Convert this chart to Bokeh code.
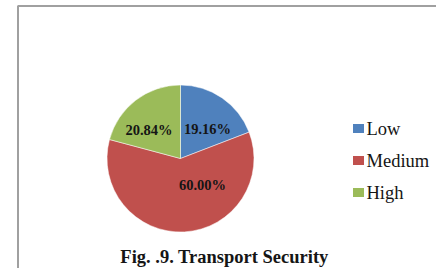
import math
from bokeh.plotting import figure
from bokeh.models import Range1d, ColumnDataSource
from bokeh.core.properties import value
from bokeh.embed import file_html
from bokeh.resources import INLINE

# ---- data ----
categories = ["Low", "Medium", "High"]
percents = [19.16, 60.00, 20.84]
labels = ["19.16%", "60.00%", "20.84%"]
colors = ["#4F81BD", "#C0504D", "#9BBB59"]
title_text = "Fig. .9. Transport Security"

# ---- layout (pixel units, origin bottom-left of figure) ----
W, H = 436, 268
cx, cy, R = 180, 110, 73.5
# label centre offsets (Excel best-fit placement) relative to pie centre
label_off = [(27, 29.5), (22, -26.5), (-31.5, 28.5)]

p = figure(width=W, height=H, output_backend="svg", toolbar_location=None,
           x_range=Range1d(0, W), y_range=Range1d(0, H), min_border=0)
p.xaxis.visible = False
p.yaxis.visible = False
p.xgrid.visible = False
p.ygrid.visible = False
p.outline_line_color = None
p.background_fill_color = "white"
p.border_fill_color = "white"

# outer frame (left and top visible)
p.line(x=[17.5, 17.5, W + 5], y=[-5, 262.5, 262.5], line_color="#a0a0a0", line_width=2)

# wedges: start at 12 o'clock, clockwise
total = sum(percents)
starts, ends = [], []
a = math.pi / 2
for v in percents:
    starts.append(a)
    a -= v / total * 2 * math.pi
    ends.append(a)
src = ColumnDataSource(dict(start=starts, end=ends, color=colors, cat=categories))
p.wedge(x=cx, y=cy, radius=R, start_angle="start", end_angle="end",
        direction="clock", fill_color="color", line_color="white", line_width=0.5,
        source=src)

# labels
lx = [cx + dx for dx, dy in label_off]
ly = [cy + dy for dx, dy in label_off]
p.text(x=lx, y=ly, text=labels, text_align="center", text_baseline="middle",
       text_font=value("Liberation Serif"), text_font_style="bold",
       text_font_size="14.5px", text_color="#151515")

# legend
lgx, lgy0, step = 358, 140, 32
gy = [lgy0 - i * step for i in range(len(categories))]
p.rect(x=[lgx] * len(categories), y=gy, width=11, height=9, fill_color=colors,
       line_color=None)
p.text(x=[lgx + 8] * len(categories), y=[g for g in gy], text=categories,
       text_align="left", text_baseline="middle",
       text_font=value("Liberation Serif"), text_font_size="18.5px", text_color="#151515")

# title at bottom
p.text(x=[224], y=[12], text=[title_text], text_align="center", text_baseline="middle",
       text_font=value("Liberation Serif"), text_font_style="bold",
       text_font_size="18.5px", text_color="#151515")

open("out.html", "w").write(file_html(p, INLINE))
